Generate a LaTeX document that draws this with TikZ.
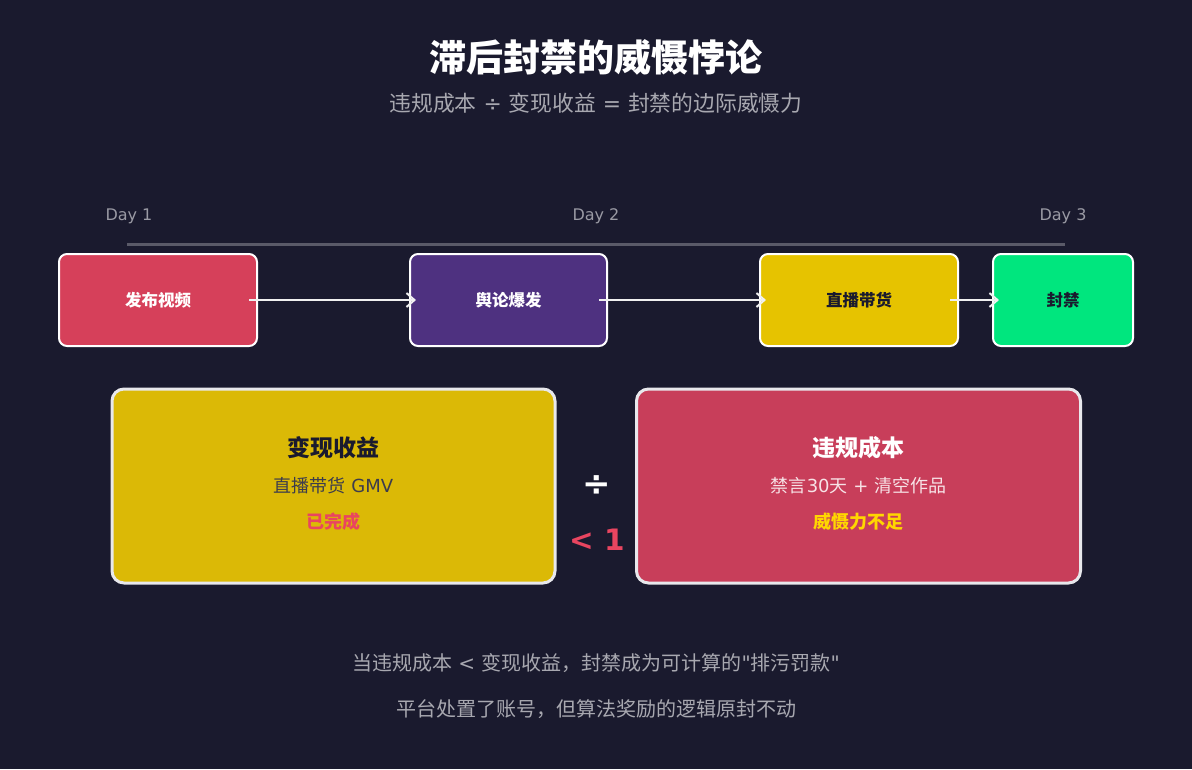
\documentclass[tikz,border=0pt]{standalone}
\usepackage{fontspec}
\setmainfont{DejaVu Sans}
\newfontfamily\zh{Noto Sans CJK SC}
\newfontfamily\dv{DejaVu Sans}
\usetikzlibrary{arrows.meta}
\definecolor{bg}{HTML}{1A1A2E}
\definecolor{subgray}{HTML}{A8A8B0}
\definecolor{daygray}{HTML}{9A9AA4}
\definecolor{linegray}{HTML}{5A5A68}
\definecolor{cred}{HTML}{D6405A}
\definecolor{cpurple}{HTML}{4E3180}
\definecolor{cgold}{HTML}{E6C300}
\definecolor{cgreen}{HTML}{00E67E}
\definecolor{bigyellow}{HTML}{DBB906}
\definecolor{bigred}{HTML}{C83E5A}
\definecolor{accent}{HTML}{E94560}
\definecolor{goldtext}{HTML}{FFD700}
\definecolor{darktext}{HTML}{1A1A2E}
\definecolor{boxline}{HTML}{E8E8EC}
\definecolor{arrowc}{HTML}{F0F0F0}
\begin{document}
\begin{tikzpicture}[x=1pt,y=-1pt,
  tbox/.style={draw=white, line width=2pt, rounded corners=8pt, minimum height=92pt, inner sep=0pt,
    font=\zh\bfseries\fontsize{16.5}{18}\selectfont},
  bbox/.style={draw=boxline, line width=3pt, rounded corners=12pt, minimum width=443pt, minimum height=194pt, inner sep=0pt},
  conn/.style={draw=arrowc, line width=2pt, -{Straight Barb[length=8pt,width=14pt,line width=2pt]}},
  daylbl/.style={text=daygray, font=\fontsize{16}{18}\selectfont, inner sep=0pt},
  bigtitle/.style={font=\zh\bfseries\fontsize{23}{26}\selectfont, inner sep=0pt},
  bigsub/.style={font=\fontsize{18}{20}\selectfont, inner sep=0pt},
  bignote/.style={font=\zh\bfseries\fontsize{18}{20}\selectfont, inner sep=0pt},
  bottomtxt/.style={text=subgray, font=\fontsize{20}{22}\selectfont, inner sep=0pt}]
\fill[bg] (0,0) rectangle (1192,769);
\useasboundingbox (0,0) rectangle (1192,769);
% titles
\node[font=\zh\bfseries\fontsize{37}{40}\selectfont, text=white, inner sep=0pt] (title) at (596,57) {滞后封禁的威慑悖论};
\node[text=subgray, font=\fontsize{21.8}{24}\selectfont, inner sep=0pt] (sub) at (596,103) {{\zh 违规成本} ÷ {\zh 变现收益} = {\zh 封禁的边际威慑力}};
% timeline
\node[daylbl] (d1) at (129,216) {Day 1};
\node[daylbl] (d2) at (596,216) {Day 2};
\node[daylbl] (d3) at (1063,216) {Day 3};
\coordinate (t1) at (127,244);
\coordinate (t2) at (1065,244);
\draw[linegray, line width=3pt] (t1) -- (t2);
% top boxes
\node[tbox, fill=cred, minimum width=198pt, text=white] (b1) at (158,300) {发布视频};
\node[tbox, fill=cpurple, minimum width=197pt, text=white] (b2) at (508.5,300) {舆论爆发};
\node[tbox, fill=cgold, minimum width=198pt, text=darktext] (b3) at (859,300) {直播带货};
\node[tbox, fill=cgreen, minimum width=140pt, text=darktext] (b4) at (1063,300) {封禁};
\draw[conn] ([xshift=-9pt]b1.east) -- ([xshift=7pt]b2.west);
\draw[conn] ([xshift=-9pt]b2.east) -- ([xshift=7pt]b3.west);
\draw[conn] ([xshift=-9pt]b3.east) -- ([xshift=7pt]b4.west);
% big boxes
\node[bbox, fill=bigyellow] (ba) at (333.5,486) {};
\node[bbox, fill=bigred, minimum width=444pt] (bb) at (858.5,486) {};
\node[bigtitle, text=darktext] (ta) at (333.5,448) {变现收益};
\node[bigsub, text=darktext!85!white] (sa) at (333.5,486) {{\zh 直播带货} GMV};
\node[bignote, text=accent] (na) at (333.5,522) {已完成};
\node[bigtitle, text=white] (tb) at (858.5,448) {违规成本};
\node[bigsub, text=white!85!bigred] (sb) at (858.5,486) {{\zh 禁言}30{\zh 天} + {\zh 清空作品}};
\node[bignote, text=goldtext] (nb) at (858.5,522) {威慑力不足};
\node[text=white, font=\bfseries\fontsize{34}{36}\selectfont, inner sep=0pt] (div) at (597,486) {÷};
\node[text=accent, font=\bfseries\fontsize{29.5}{32}\selectfont, inner sep=0pt] (lt) at (597,540) {< 1};
% bottom
\node[bottomtxt] (l1) at (596,663) {{\zh 当违规成本} < {\zh 变现收益，封禁成为可计算的}{\dv "}{\zh 排污罚款}{\dv "}};
\node[bottomtxt] (l2) at (596,709) {\zh 平台处置了账号，但算法奖励的逻辑原封不动};
\end{tikzpicture}
\end{document}
